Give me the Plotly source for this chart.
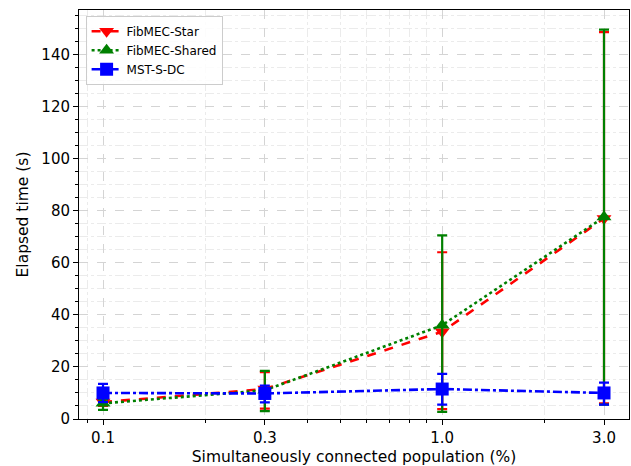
import plotly.graph_objects as go

# Connected population (%) on a log axis
population = [0.1, 0.3, 1.0, 3.0]
tick_labels = ["0.1", "0.3", "1.0", "3.0"]

# Elapsed time (s): mean with lower / upper error bounds
star_mean = [6.5, 11.5, 33.5, 77.0]
star_low = [5.0, 4.0, 3.8, 6.0]
star_high = [7.5, 18.0, 64.0, 148.5]

shared_mean = [6.0, 11.0, 36.0, 77.5]
shared_low = [3.5, 3.0, 2.7, 5.5]
shared_high = [7.5, 18.5, 70.5, 149.5]

mst_mean = [10.0, 9.8, 11.5, 10.0]
mst_low = [6.5, 6.4, 5.5, 5.5]
mst_high = [13.5, 12.8, 17.3, 14.0]

FONT = "DejaVu Sans"


def series(name, mean, low, high, color, dash, symbol):
    return go.Scatter(
        x=population,
        y=mean,
        name=name,
        mode="lines+markers",
        line=dict(color=color, width=2.6, dash=dash),
        marker=dict(color=color, symbol=symbol, size=13, line=dict(width=0)),
        error_y=dict(
            type="data",
            symmetric=False,
            array=[h - m for h, m in zip(high, mean)],
            arrayminus=[m - l for m, l in zip(mean, low)],
            color=color,
            thickness=2.2,
            width=5,
        ),
    )


fig = go.Figure()
fig.add_trace(series("FibMEC-Star", star_mean, star_low, star_high,
                     "#ff0000", "dash", "triangle-down"))
fig.add_trace(series("FibMEC-Shared", shared_mean, shared_low, shared_high,
                     "#008000", "dot", "triangle-up"))
fig.add_trace(series("MST-S-DC", mst_mean, mst_low, mst_high,
                     "#0000ff", "dashdot", "square"))

minor_x = [0.09, 0.2, 0.4, 0.5, 0.6, 0.7, 0.8, 0.9, 2.0]

fig.update_layout(
    width=631,
    height=466,
    margin=dict(l=79, r=2, t=10, b=47),
    paper_bgcolor="white",
    plot_bgcolor="white",
    font=dict(family=FONT, size=15, color="black"),
    showlegend=True,
    legend=dict(
        x=0.012, y=0.986, xanchor="left", yanchor="top",
        bgcolor="rgba(255,255,255,0.85)",
        bordercolor="#cccccc", borderwidth=1,
        font=dict(family=FONT, size=12, color="black"),
        itemwidth=30,
        tracegroupgap=0,
    ),
    xaxis=dict(
        type="log",
        range=[-1.0708, 0.5508],
        tickmode="array",
        tickvals=population,
        ticktext=tick_labels,
        ticks="outside", ticklen=5, tickwidth=1, tickcolor="black",
        showline=True, linecolor="black", linewidth=1, mirror=True,
        showgrid=True, gridcolor="#d4d4d4", griddash="dash", gridwidth=1,
        zeroline=False,
        minor=dict(
            tickmode="array", tickvals=minor_x,
            ticks="outside", ticklen=3, tickcolor="black", tickwidth=1,
            showgrid=True, gridcolor="#ebebeb", griddash="dashdot", gridwidth=1,
        ),
        title=dict(text="Simultaneously connected population (%)",
                   font=dict(family=FONT, size=15.5), standoff=7),
        tickfont=dict(family=FONT, size=15),
    ),
    yaxis=dict(
        range=[0, 157],
        tickmode="linear", tick0=0, dtick=20,
        ticks="outside", ticklen=5, tickwidth=1, tickcolor="black",
        showline=True, linecolor="black", linewidth=1, mirror=True,
        showgrid=True, gridcolor="#d4d4d4", griddash="dash", gridwidth=1,
        zeroline=False,
        minor=dict(
            tickmode="linear", tick0=0, dtick=5,
            ticks="outside", ticklen=3, tickcolor="black", tickwidth=1,
            showgrid=True, gridcolor="#ebebeb", griddash="dashdot", gridwidth=1,
        ),
        title=dict(text="Elapsed time (s)",
                   font=dict(family=FONT, size=15.5), standoff=8),
        tickfont=dict(family=FONT, size=15),
    ),
)

fig.write_html("out.html")
